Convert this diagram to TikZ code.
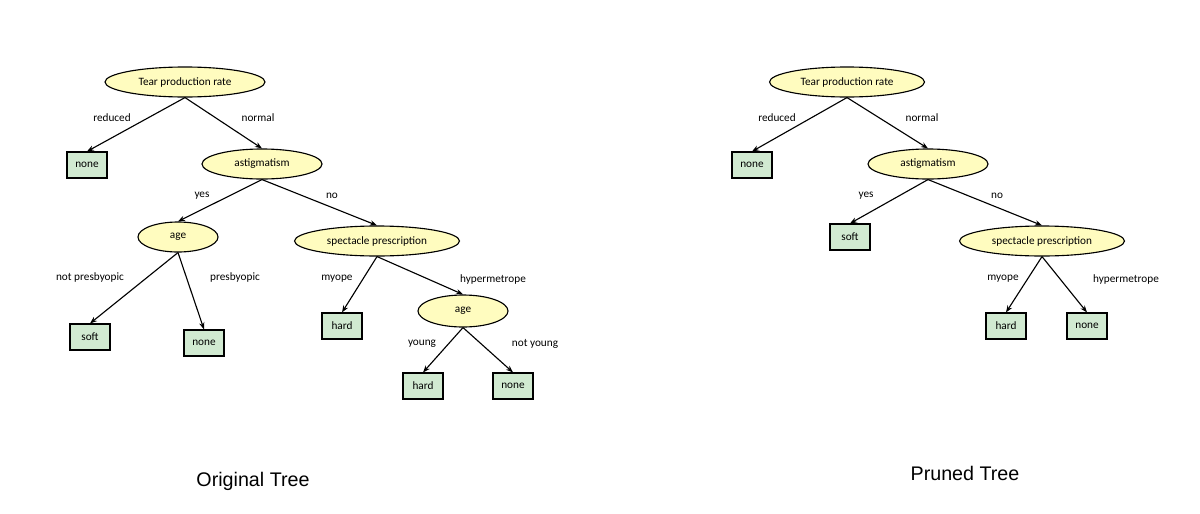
\documentclass[tikz,border=0pt]{standalone}
\usepackage{fontspec}
\setmainfont{Carlito}
\newfontfamily\titlefont{Liberation Sans}
\usetikzlibrary{shapes.geometric,arrows.meta}
\begin{document}
\begin{tikzpicture}[x=0.025cm,y=-0.025cm,
  ell/.style={ellipse,draw=black,thick,fill=yellow!25,inner sep=1pt,font=\fontsize{8}{9}\selectfont},
  box/.style={rectangle,draw=black,thick,fill=green!55!black!18,minimum width=40*0.025cm,minimum height=26*0.025cm,font=\fontsize{8}{9}\selectfont},
  lab/.style={font=\fontsize{8}{9}\selectfont},
  ar/.style={-{Stealth[length=5pt]},thick}]
\useasboundingbox (0,0) rectangle (1200,513);
% Left tree
\node[ell,minimum width=160*0.025cm,minimum height=30*0.025cm] (t1) at (185,82) {Tear production rate};
\node[box] (n1) at (87,165) {none};
\node[ell,minimum width=120*0.025cm,minimum height=30*0.025cm] (a1) at (262,164) {astigmatism};
\node[ell,minimum width=80*0.025cm,minimum height=30*0.025cm] (g1) at (178,237) {age};
\node[ell,minimum width=165*0.025cm,minimum height=30*0.025cm] (s1) at (377,241) {spectacle prescription};
\node[box] (so1) at (90,337) {soft};
\node[box] (no2) at (204,343) {none};
\node[box] (h1) at (342,326) {hard};
\node[ell,minimum width=90*0.025cm,minimum height=32*0.025cm] (g2) at (463,311) {age};
\node[box] (h2) at (423,386) {hard};
\node[box] (no3) at (513,386) {none};
\draw[ar] (t1.south) -- (n1.north);
\draw[ar] (t1.south) -- (a1.north);
\draw[ar] (a1.south) -- (g1.north);
\draw[ar] (a1.south) -- (s1.north);
\draw[ar] (g1.south) -- (so1.north);
\draw[ar] (g1.south) -- (no2.north);
\draw[ar] (s1.south) -- (h1.north);
\draw[ar] (s1.south) -- (g2.north);
\draw[ar] (g2.south) -- (h2.north);
\draw[ar] (g2.south) -- (no3.north);
\node[lab] (l1) at (112,118) {reduced};
\node[lab] (l2) at (258,118) {normal};
\node[lab] (l3) at (202,196) {yes};
\node[lab] (l4) at (332,196) {no};
\node[lab] (l5) at (90,277) {not presbyopic};
\node[lab] (l6) at (235,277) {presbyopic};
\node[lab] (l7) at (337,279) {myope};
\node[lab] (l8) at (493,279) {hypermetrope};
\node[lab] (l9) at (422,344) {young};
\node[lab] (l10) at (535,344) {not young};
% Right tree
\node[ell,minimum width=155*0.025cm,minimum height=30*0.025cm] (t2) at (847,82) {Tear production rate};
\node[box] (rn1) at (752,165) {none};
\node[ell,minimum width=120*0.025cm,minimum height=30*0.025cm] (a2) at (928,164) {astigmatism};
\node[box] (rs) at (850,237) {soft};
\node[ell,minimum width=165*0.025cm,minimum height=30*0.025cm] (s2) at (1042,241) {spectacle prescription};
\node[box] (rh) at (1006,326) {hard};
\node[box] (rn2) at (1087,326) {none};
\draw[ar] (t2.south) -- (rn1.north);
\draw[ar] (t2.south) -- (a2.north);
\draw[ar] (a2.south) -- (rs.north);
\draw[ar] (a2.south) -- (s2.north);
\draw[ar] (s2.south) -- (rh.north);
\draw[ar] (s2.south) -- (rn2.north);
\node[lab] (r1) at (777,118) {reduced};
\node[lab] (r2) at (922,118) {normal};
\node[lab] (r3) at (866,196) {yes};
\node[lab] (r4) at (997,196) {no};
\node[lab] (r5) at (1003,279) {myope};
\node[lab] (r6) at (1126,279) {hypermetrope};
% Titles
\node[font=\titlefont\fontsize{14}{16}\selectfont] (tt1) at (253,481) {Original Tree};
\node[font=\titlefont\fontsize{14}{16}\selectfont] (tt2) at (965,473) {Pruned Tree};
\end{tikzpicture}
\end{document}
